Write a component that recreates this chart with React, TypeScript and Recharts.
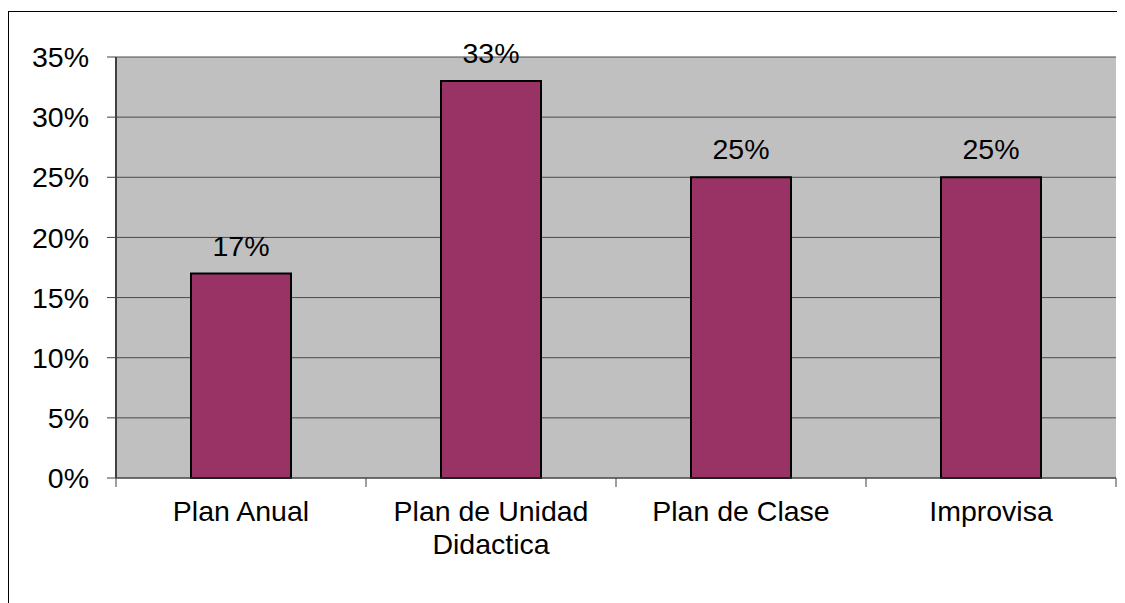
import { BarChart, Bar, XAxis, YAxis, CartesianGrid, LabelList } from "recharts";

const categories = ["Plan Anual", "Plan de Unidad Didactica", "Plan de Clase", "Improvisa"];
const labelLines = [["Plan Anual"], ["Plan de Unidad", "Didactica"], ["Plan de Clase"], ["Improvisa"]];
const values = [0.17, 0.33, 0.25, 0.25];
const yTicks = [0, 0.05, 0.1, 0.15, 0.2, 0.25, 0.3, 0.35];

const data = categories.map((c, i) => ({ name: c, value: values[i] }));

const FONT = "'Liberation Sans', Arial, sans-serif";
const FS = 28.5;
const pct = (v: number) => `${Math.round(v * 100)}%`;

// category label plus tick marks on the band edges (Excel style)
const CatTick = (props: any) => {
  const { x, y, index, payload, visibleTicksCount } = props;
  const lines = labelLines[index] || [];
  const half = payload && payload.offset ? payload.offset : 125;
  const axisY = y - 23;
  const isLast = index === (visibleTicksCount ?? categories.length) - 1;
  return (
    <g>
      <line x1={x - half} x2={x - half} y1={axisY} y2={axisY + 9} stroke="#404040" />
      {isLast && <line x1={x + half} x2={x + half} y1={axisY} y2={axisY + 9} stroke="#404040" />}
      <text x={x} y={y} textAnchor="middle" fontFamily={FONT} fontSize={FS} fill="#000">
        {lines.map((l, i) => (
          <tspan key={i} x={x} dy={i === 0 ? "0.71em" : 33}>{l}</tspan>
        ))}
      </text>
    </g>
  );
};

export default function App() {
  return (
    <div style={{ position: "relative", width: 1117, height: 595, overflow: "hidden", fontFamily: FONT }}>
      <div style={{ position: "absolute", left: 0, top: 3, width: 1200, height: 700, border: "1px solid #000", boxSizing: "border-box" }} />
      <div style={{ position: "absolute", left: 0, top: 0 }}>
        <BarChart width={1117} height={595} data={data} margin={{ top: 49, right: 9, left: 8, bottom: 25 }} barSize={100}>
          <CartesianGrid vertical={false} stroke="#4a4a4a" fill="#C0C0C0" fillOpacity={1} />
          <XAxis dataKey="name" height={100} axisLine={{ stroke: "#404040", strokeWidth: 1 }} tickLine={false}
            interval={0} tick={<CatTick />} tickSize={6} tickMargin={17} />
          <XAxis xAxisId="top" orientation="top" dataKey="name" height={0} tick={false} tickLine={false}
            axisLine={{ stroke: "#8a8a8a", strokeWidth: 2 }} />
          <YAxis width={100} domain={[0, 0.35]} ticks={yTicks} tickFormatter={pct} interval={0}
            axisLine={{ stroke: "#404040", strokeWidth: 2 }} tickLine={{ stroke: "#404040" }} tickSize={9} tickMargin={18}
            tick={{ fontSize: FS, fill: "#000", fontFamily: FONT }} />
          <YAxis yAxisId="right" orientation="right" width={0} domain={[0, 0.35]} tick={false} tickLine={false}
            axisLine={{ stroke: "#8a8a8a", strokeWidth: 2 }} />
          <Bar dataKey="value" fill="#993366" stroke="#000" strokeWidth={2} isAnimationActive={false}>
            <LabelList dataKey="value" position="top" offset={18} formatter={(v: any) => pct(Number(v))}
              style={{ fontSize: FS, fill: "#000", fontFamily: FONT }} />
          </Bar>
        </BarChart>
      </div>
    </div>
  );
}
